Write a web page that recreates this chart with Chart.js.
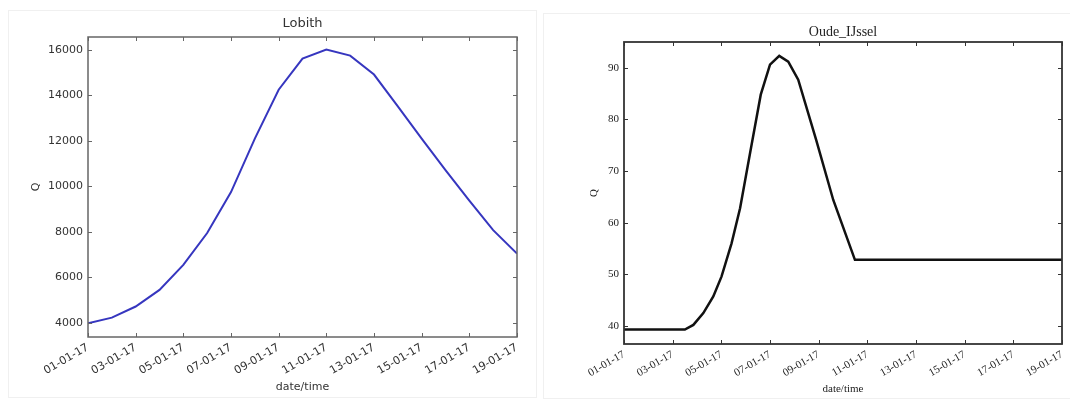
<!DOCTYPE html>
<html>
<head>
<meta charset="utf-8">
<title>Lobith / Oude_IJssel</title>
<script src="https://cdn.jsdelivr.net/npm/chart.js@4.4.1/dist/chart.umd.min.js"></script>
<style>
    html, body { margin: 0; padding: 0; background: #fff; }
    body { width: 1070px; height: 399px; position: relative; overflow: hidden; }
    .panel { position: absolute; }
    #panel-left { left: 0; top: 0; width: 535px; height: 399px; }
    #panel-right { left: 540px; top: 0; width: 530px; height: 399px; }
    .frame { position: absolute; border: 1px solid #f0f0f0; }
</style>
</head>
<body>
<div class="frame" style="left:8px; top:10px; width:527px; height:386px;"></div>
<div class="frame" style="left:543px; top:13px; width:530px; height:384px;"></div>
<div class="panel" id="panel-left"><canvas id="chartLobith"></canvas></div>
<div class="panel" id="panel-right"><canvas id="chartIJssel"></canvas></div>
<script>
// x values are days of January 2017 (1 = 01-01-17)
const xTickDays = [1, 3, 5, 7, 9, 11, 13, 15, 17, 19];
const xTickLabels = ['01-01-17', '03-01-17', '05-01-17', '07-01-17', '09-01-17',
                     '11-01-17', '13-01-17', '15-01-17', '17-01-17', '19-01-17'];

// Lobith discharge, daily
const lobithDays = [1, 2, 3, 4, 5, 6, 7, 8, 9, 10, 11, 12, 13, 14, 15, 16, 17, 18, 19];
const lobithQ = [3980, 4230, 4720, 5450, 6550, 7950, 9750, 12100, 14250, 15620,
                 16020, 15750, 14920, 13520, 12100, 10720, 9380, 8080, 7050];
const lobithYTicks = [4000, 6000, 8000, 10000, 12000, 14000, 16000];

// Oude IJssel discharge
const ijsselDays = [1, 3.5, 3.85, 4.26, 4.67, 5.01, 5.42, 5.77, 6.2, 6.62, 7.0,
                    7.38, 7.75, 8.16, 8.9, 9.6, 10.49, 19];
const ijsselQ = [39.3, 39.3, 40.2, 42.5, 45.7, 49.6, 56.0, 62.8, 74.0, 84.8, 90.6,
                 92.3, 91.2, 87.7, 76.0, 64.4, 52.8, 52.8];
const ijsselYTicks = [40, 50, 60, 70, 80, 90];

// inward tick marks on all four sides + plot box (matplotlib classic look)
const boxTicks = {
    id: 'boxTicks',
    afterDatasetsDraw(chart, args, opts) {
        const { ctx, chartArea: a, scales } = chart;
        const len = opts.len || 4;
        ctx.save();
        ctx.strokeStyle = opts.color;
        ctx.lineWidth = 1;
        ctx.beginPath();
        scales.x.ticks.forEach(t => {
            const px = Math.round(scales.x.getPixelForValue(t.value)) + 0.5;
            ctx.moveTo(px, a.bottom); ctx.lineTo(px, a.bottom - len);
            ctx.moveTo(px, a.top); ctx.lineTo(px, a.top + len);
        });
        scales.y.ticks.forEach(t => {
            const py = Math.round(scales.y.getPixelForValue(t.value)) + 0.5;
            ctx.moveTo(a.left, py); ctx.lineTo(a.left + len, py);
            ctx.moveTo(a.right, py); ctx.lineTo(a.right - len, py);
        });
        ctx.stroke();
        ctx.lineWidth = opts.border || 1.5;
        ctx.strokeRect(a.left, a.top, a.right - a.left, a.bottom - a.top);

        // title centred over the plot area, like matplotlib
        if (opts.title) {
            ctx.fillStyle = opts.titleColor;
            ctx.font = opts.titleFont;
            ctx.textAlign = 'center';
            ctx.textBaseline = 'middle';
            ctx.fillText(opts.title, (a.left + a.right) / 2, opts.titleY);
        }
        ctx.restore();
    }
};

function makeChart(canvasId, cfg) {
    const points = cfg.days.map((d, i) => ({ x: d, y: cfg.values[i] }));
    return new Chart(document.getElementById(canvasId), {
        type: 'line',
        data: {
            datasets: [{
                data: points,
                borderColor: cfg.lineColor,
                borderWidth: cfg.lineWidth,
                pointRadius: 0,
                tension: 0,
                fill: false
            }]
        },
        options: {
            responsive: true,
            maintainAspectRatio: false,
            animation: false,
            layout: { padding: cfg.padding },
            plugins: {
                legend: { display: false },
                tooltip: { enabled: false },
                title: { display: false },
                boxTicks: {
                    color: cfg.axisColor,
                    border: cfg.boxWidth,
                    len: 4,
                    title: cfg.title,
                    titleY: cfg.titleY,
                    titleColor: cfg.textColor,
                    titleFont: cfg.titleSize + 'px ' + cfg.font
                }
            },
            scales: {
                x: {
                    type: 'linear',
                    min: 1,
                    max: 19,
                    afterBuildTicks: s => { s.ticks = xTickDays.map(v => ({ value: v })); },
                    afterFit: s => {
                        s.height = cfg.xHeight;
                        // rotated labels end at the tick, no extra room needed on the right
                        s.paddingRight = 0;
                    },
                    grid: { display: false, drawTicks: false },
                    border: { display: false },
                    ticks: {
                        autoSkip: false,
                        minRotation: 30,
                        maxRotation: 30,
                        padding: cfg.xTickPad,
                        color: cfg.textColor,
                        font: { family: cfg.font, size: cfg.tickSize },
                        callback: v => xTickLabels[xTickDays.indexOf(v)]
                    },
                    title: {
                        display: true,
                        text: 'date/time',
                        color: cfg.textColor,
                        font: { family: cfg.font, size: cfg.tickSize },
                        padding: { top: 0, bottom: cfg.xTitlePad }
                    }
                },
                y: {
                    min: cfg.yMin,
                    max: cfg.yMax,
                    afterBuildTicks: s => { s.ticks = cfg.yTicks.map(v => ({ value: v })); },
                    afterFit: s => { s.width = cfg.yWidth; },
                    grid: { display: false, drawTicks: false },
                    border: { display: false },
                    ticks: {
                        padding: 5,
                        color: cfg.textColor,
                        font: { family: cfg.font, size: cfg.tickSize },
                        callback: v => String(v)
                    },
                    title: {
                        display: true,
                        text: 'Q',
                        color: cfg.textColor,
                        font: { family: cfg.font, size: cfg.tickSize },
                        padding: { top: cfg.yTitlePad, bottom: 0 }
                    }
                }
            }
        },
        plugins: [boxTicks]
    });
}

makeChart('chartLobith', {
    days: lobithDays,
    values: lobithQ,
    yTicks: lobithYTicks,
    yMin: 3380,
    yMax: 16570,
    title: 'Lobith',
    titleY: 24,
    font: '"DejaVu Sans", sans-serif',
    titleSize: 13,
    tickSize: 11,
    textColor: '#333',
    axisColor: '#666',
    boxWidth: 1.5,
    lineColor: '#3636bf',
    lineWidth: 2,
    padding: { left: 0, right: 18, top: 37, bottom: 0 },
    yWidth: 88,
    xHeight: 62,
    xTickPad: 4,
    xTitlePad: 5,
    yTitlePad: 30
});

makeChart('chartIJssel', {
    days: ijsselDays,
    values: ijsselQ,
    yTicks: ijsselYTicks,
    yMin: 36.5,
    yMax: 95,
    title: 'Oude_IJssel',
    titleY: 32,
    font: '"Liberation Serif", "Times New Roman", serif',
    titleSize: 14,
    tickSize: 11,
    textColor: '#222',
    axisColor: '#333',
    boxWidth: 1.8,
    lineColor: '#111',
    lineWidth: 2.5,
    padding: { left: 0, right: 8, top: 42, bottom: 0 },
    yWidth: 84,
    xHeight: 55,
    xTickPad: 4,
    xTitlePad: 3,
    yTitlePad: 48
});
</script>
</body>
</html>
